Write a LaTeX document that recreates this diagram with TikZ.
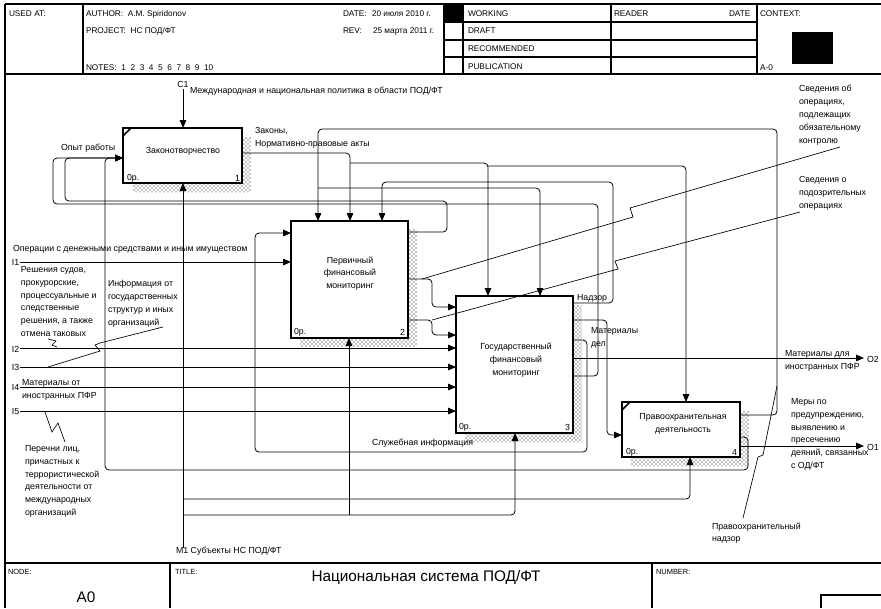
\documentclass[tikz,border=0pt]{standalone}
\usepackage{fontspec}
\setmainfont{Liberation Sans}
\usetikzlibrary{arrows.meta,patterns}
\begin{document}
\begin{tikzpicture}[x=0.75pt,y=-0.75pt,
  every node/.style={inner sep=0pt, outer sep=0pt},
  lbl/.style={font=\fontsize{6.6}{9.6}\selectfont, anchor=west, align=left},
  mlbl/.style={font=\fontsize{6.6}{9.6}\selectfont, anchor=north west, align=left},
  ctext/.style={font=\fontsize{6.6}{9.6}\selectfont, align=center},
  hdr/.style={font=\fontsize{6.2}{7.5}\selectfont, anchor=west},
  ftr/.style={font=\fontsize{5.6}{7}\selectfont, anchor=west},
  frame/.style={line width=0.9pt},
  box/.style={draw, line width=1.6pt, fill=white},
  corner/.style={line width=1.1pt},
  flow/.style={line width=0.6pt, rounded corners=3pt},
  arr/.style={flow, -{Triangle[length=6pt,width=5pt]}},
  squig/.style={line width=0.5pt},
  shadow/.style={pattern=crosshatch dots, pattern color=black}
]
\useasboundingbox (0,0) rectangle (881,608);
\fill[white] (0,0) rectangle (881,608);

% ---------- frame ----------
\draw[frame] (5,4) -- (881,4);
\draw[frame] (5,74) -- (881,74);
\draw[frame] (5,4) -- (5,608);
\draw[frame] (83,4) -- (83,74);
\draw[frame] (444,4) -- (444,74);
\draw[frame] (463,4) -- (463,74);
\draw[frame] (611,4) -- (611,74);
\draw[frame] (757,4) -- (757,74);
\draw[frame] (444,22) -- (757,22);
\draw[frame] (444,40) -- (757,40);
\draw[frame] (444,57) -- (757,57);
\fill (444,4) rectangle (463,22);
\fill (792,32) rectangle (833,64);
\draw[frame] (5,563) -- (881,563);
\draw[frame] (170,563) -- (170,608);
\draw[frame] (652,563) -- (652,608);
\draw[frame] (821,608) |- (885,595);

% header texts
\node[hdr] (usedat) at (9,14) {USED AT:};
\node[hdr] (author) at (86,14) {AUTHOR:\ \ A.M. Spiridonov};
\node[hdr] (project) at (86,31) {PROJECT:\ \ НС ПОД/ФТ};
\node[hdr] (notes) at (86,68) {NOTES:\ \ 1\ \ 2\ \ 3\ \ 4\ \ 5\ \ 6\ \ 7\ \ 8\ \ 9\ \ 10};
\node[hdr] (date) at (343,14) {DATE:};
\node[hdr] (dateval) at (372,14) {20 июля 2010 г.};
\node[hdr] (rev) at (343,31) {REV:};
\node[hdr] (revval) at (373,31) {25 марта 2011 г.};
\node[hdr] (working) at (468,14) {WORKING};
\node[hdr] (draft) at (468,31) {DRAFT};
\node[hdr] (recommended) at (468,49) {RECOMMENDED};
\node[hdr] (publication) at (468,67) {PUBLICATION};
\node[hdr] (reader) at (614,14) {READER};
\node[hdr] (rdate) at (729,14) {DATE};
\node[hdr] (context) at (760,14) {CONTEXT:};
\node[hdr] (azero) at (760,68) {A-0};
\node[ftr] (nodelbl) at (8,572) {NODE:};
\node[ftr] (titlelbl) at (175,572) {TITLE:};
\node[ftr] (numberlbl) at (656,572) {NUMBER:};
\node[font=\fontsize{11.5}{13}\selectfont] (nodeval) at (86,597) {A0};
\node[font=\fontsize{11.5}{13}\selectfont] (title) at (426,577) {Национальная система ПОД/ФТ};

% ---------- shadows ----------
\fill[shadow] (242,137) -- (251,137) -- (251,192) -- (133,192) -- (133,183) -- (242,183) -- cycle;
\fill[shadow] (408,229) -- (417,229) -- (417,347) -- (300,347) -- (300,338) -- (408,338) -- cycle;
\fill[shadow] (573,305) -- (582,305) -- (582,442) -- (465,442) -- (465,433) -- (573,433) -- cycle;
\fill[shadow] (740,411) -- (749,411) -- (749,466) -- (631,466) -- (631,457) -- (740,457) -- cycle;

% ---------- coordinates of free ends ----------
\coordinate (c1) at (183,89);
\coordinate (m1) at (183,548);
\coordinate (i1) at (20,262);
\coordinate (i2) at (20,348);
\coordinate (i3) at (20,367);
\coordinate (i4) at (20,387);
\coordinate (i5) at (20,411);
\coordinate (o1) at (864,446);
\coordinate (o2) at (864,358);

% ---------- connectors (drawn first, boxes on top) ----------
% C1
\draw[arr] (c1) -- (183,128);
% Laws
\draw[arr] (242,153) -| (350,221);
\draw[arr] (350,163) -| (488,296);
\draw[arr] (488,166) -| (686,402);
% box4 feedback (law enforcement supervision)
\draw[arr] (740,415) -| (777,129) -| (318,221);
\draw[arr] (318,188) -| (540,296);
% Nadzor
\draw[arr] (573,303) -| (613,182) -| (382,221);
% feedbacks into box 1
\draw[arr] (408,232) -| (447,201) -| (65,158) -- (123,158);
\draw[arr] (573,376) -| (598,204) -| (53,158) -- (123,158);
\draw[arr] (740,437) -| (748,470) -| (105,158) -- (123,158);
% service information
\draw[arr] (573,340) -| (587,452) -| (255,233) -- (291,233);
% inputs
\draw[arr] (i1) -- (291,262);
\draw[arr] (i2) -- (456,348);
\draw[arr] (i3) -- (456,367);
\draw[arr] (i4) -- (456,387);
\draw[arr] (i5) -- (456,411);
% box2 -> box3
\draw[arr] (408,279) -| (432,307) -- (456,307);
\draw[arr] (408,320) -| (432,335) -- (456,335);
% box3 -> box4
\draw[arr] (573,320) -| (607,435) -- (622,435);
% outputs
\draw[arr] (573,358) -- (o2);
\draw[arr] (740,446) -- (o1);
% mechanism
\draw[arr] (m1) -- (183,183);
\draw[arr] (183,499) -| (690,457);
\draw[arr] (183,515) -| (515,433);
\draw[arr] (349,515) -- (349,338);

% ---------- boxes ----------
\node[box, minimum width=89.25pt, minimum height=41.25pt] (b1) at (182.5,155.5) {};
\node[box, minimum width=87.75pt, minimum height=87.75pt] (b2) at (349.5,279.5) {};
\node[box, minimum width=87.75pt, minimum height=102.75pt] (b3) at (514.5,364.5) {};
\node[box, minimum width=88.5pt, minimum height=41.25pt] (b4) at (681,429.5) {};
\draw[corner] ([yshift=-6pt]b1.north west) -- ([xshift=6pt]b1.north west);
\draw[corner] ([yshift=-6pt]b4.north west) -- ([xshift=6pt]b4.north west);

\node[ctext] (t1) at (183,151) {Законотворчество};
\node[ctext] (t2) at (350,273.5) {Первичный\\финансовый\\мониторинг};
\node[ctext] (t3) at (516,360) {Государственный\\финансовый\\мониторинг};
\node[ctext] (t4) at (683,424) {Правоохранительная\\деятельность};
\node[lbl] (z1) at (127,178) {0р.};
\node[lbl, anchor=east] (n1) at (240,178) {1};
\node[lbl] (z2) at (294,332) {0р.};
\node[lbl, anchor=east] (n2) at (405,332) {2};
\node[lbl] (z3) at (459,427) {0р.};
\node[lbl, anchor=east] (n3) at (570,427) {3};
\node[lbl] (z4) at (626,452) {0р.};
\node[lbl, anchor=east] (n4) at (737,452) {4};

% ---------- labels ----------
\node[lbl, anchor=center] (c1l) at (183,84) {C1};
\node[lbl] (policy) at (190,91) {Международная и национальная политика в области ПОД/ФТ};
\node[lbl] (opyt) at (61,148) {Опыт работы};
\node[mlbl] (zakony) at (255,127.5) {Законы,\\Нормативно-правовые акты};
\node[lbl] (oper) at (13,249) {Операции с денежными средствами и иным имуществом};
\node[lbl] (i1l) at (12,262) {I1};
\node[lbl] (i2l) at (12,349) {I2};
\node[lbl] (i3l) at (12,367) {I3};
\node[lbl] (i4l) at (12,387) {I4};
\node[lbl] (i5l) at (12,412) {I5};
\node[mlbl] (resh) at (21,266.5) {Решения судов,\\прокурорские,\\процессуальные и\\следственные\\решения, а также\\отмена таковых};
\node[mlbl] (inform) at (108,280.5) {Информация от\\государственных\\структур и иных\\организаций};
\node[mlbl] (matot) at (22,379.5) {Материалы от\\иностранных ПФР};
\node[mlbl] (perech) at (25,445.5) {Перечни лиц,\\причастных к\\террористической\\деятельности от\\международных\\организаций};
\node[lbl] (sluzh) at (372,443) {Служебная информация};
\node[lbl] (nadzor) at (577,298) {Надзор};
\node[mlbl] (matdel) at (591,327.5) {Материалы\\дел};
\node[mlbl] (matdl) at (785,350.5) {Материалы для\\иностранных ПФР};
\node[lbl] (o2l) at (867,359) {O2};
\node[lbl] (o1l) at (867,447) {O1};
\node[mlbl] (mery) at (791,398.5) {Меры по\\предупреждению,\\выявлению и\\пресечению\\деяний, связанных\\с ОД/ФТ};
\node[mlbl] (prnadz) at (712,522.5) {Правоохранительный\\надзор};
\node[mlbl] (sved1) at (799,85.5) {Сведения об\\операциях,\\подлежащих\\обязательному\\контролю};
\node[mlbl] (sved2) at (799,176.5) {Сведения о\\подозрительных\\операциях};
\node[lbl] (m1l) at (176,551) {M1 Субъекты НС ПОД/ФТ};

% ---------- squiggles ----------
\draw[squig] (840,147) -- (630,208) -- (633,217) -- (422,279);
\draw[squig] (800,212) -- (615,261) -- (618,269) -- (432,320);
\draw[squig] (48,339) -- (56,341) -- (52,345) -- (57,347);
\draw[squig] (163,327) -- (100,343) -- (95,345) -- (100,351) -- (48,367);
\draw[squig] (65,442) -- (58,423) -- (52,432) -- (45,412);
\draw[squig] (743,518) -- (758,457) -- (763,455) -- (777,386);
\end{tikzpicture}
\end{document}
